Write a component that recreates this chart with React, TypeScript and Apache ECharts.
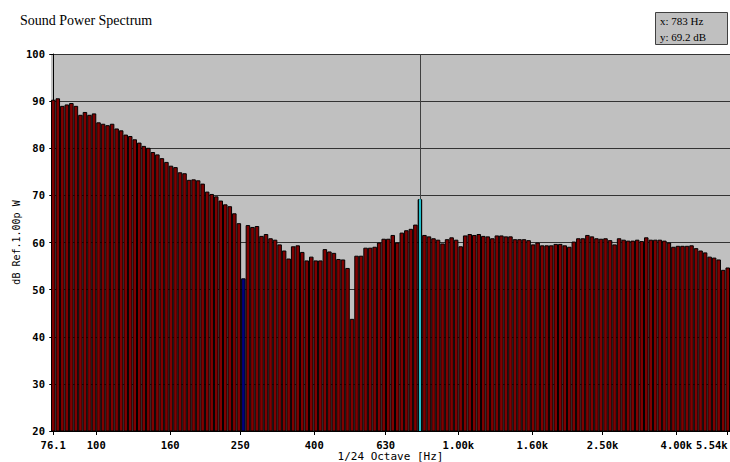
import { useEffect, useRef } from "react";
import * as echarts from "echarts";

// 1/24-octave bands (base-10: 80 bands per decade), starting at 76.1 Hz
const START_HZ = 76.1;
const BANDS_PER_DECADE = 80;

// Sound power level per band, dB re 1.00 pW
const levels: number[] = [
  90.3, 90.6, 89.0, 89.3, 89.6, 89.0, 87.1, 87.7, 87.1, 87.4,
  85.5, 85.2, 84.9, 85.2, 84.2, 83.8, 82.9, 82.6, 81.9, 81.2,
  80.5, 80.1, 79.2, 78.7, 77.9, 77.1, 76.3, 76.0, 74.9, 74.7,
  73.3, 73.4, 73.2, 72.5, 70.8, 70.3, 69.8, 68.9, 68.1, 67.7,
  66.2, 64.1, 52.4, 63.7, 63.3, 63.5, 61.4, 61.8, 60.9, 60.6,
  59.6, 58.3, 56.6, 59.2, 59.4, 58.0, 56.2, 57.0, 56.2, 56.2,
  58.6, 58.1, 57.8, 56.5, 56.4, 54.6, 43.8, 57.2, 57.2, 58.9,
  58.9, 59.1, 60.0, 60.8, 60.8, 61.6, 60.0, 62.1, 62.6, 62.9,
  63.8, 69.2, 61.6, 61.3, 60.9, 60.6, 59.8, 60.7, 61.1, 60.6,
  59.2, 61.5, 61.8, 61.6, 61.8, 61.4, 61.3, 60.9, 61.5, 61.5,
  61.3, 61.3, 60.7, 60.7, 60.7, 60.5, 59.6, 60.0, 59.4, 59.4,
  59.4, 59.7, 59.7, 59.4, 59.1, 60.2, 60.9, 60.9, 61.6, 61.3,
  60.9, 60.8, 60.9, 60.5, 59.6, 60.9, 60.6, 60.4, 60.4, 60.6,
  60.3, 61.1, 60.6, 60.6, 60.6, 60.4, 60.0, 59.1, 59.3, 59.3,
  59.3, 59.4, 58.8, 58.3, 57.9, 57.0, 56.8, 56.4, 54.2, 54.7,
];

// Frequency axis tick marks
const tickFreqs: number[] = [76.1, 100, 160, 250, 400, 630, 1000, 1600, 2500, 4000, 5540];
const tickLabels: string[] = ["76.1", "100", "160", "250", "400", "630", "1.00k", "1.60k", "2.50k", "4.00k", "5.54k"];

// Highlighted bands: selected band (blue) and cursor band
const selectedBand = 42;
const cursorBand = 81;

const bandFreqs = levels.map((_, i) => START_HZ * Math.pow(10, i / BANDS_PER_DECADE));
const tickPos = tickFreqs.map((f) => BANDS_PER_DECADE * Math.log10(f / START_HZ));

const MONO = '"DejaVu Sans Mono", "Liberation Mono", monospace';
const SERIF = '"Liberation Serif", "DejaVu Serif", serif';

export default function App() {
  const ref = useRef<HTMLDivElement>(null);

  useEffect(() => {
    if (!ref.current) return;
    const chart = echarts.init(ref.current, null, { renderer: "svg" });

    const barData = levels.map((v, i) => {
      if (i === selectedBand) {
        return { value: v, itemStyle: { color: "#000080", borderColor: "#000", borderWidth: 1 } };
      }
      if (i === cursorBand) {
        return { value: v, itemStyle: { color: "#000000", borderColor: "#000", borderWidth: 1 } };
      }
      return v;
    });

    const labelFor = (v: number) => {
      let best = 0;
      let d = Infinity;
      tickPos.forEach((p, i) => {
        const dd = Math.abs(p - v);
        if (dd < d) {
          d = dd;
          best = i;
        }
      });
      return tickLabels[best];
    };

    chart.setOption({
      animation: false,
      backgroundColor: "#ffffff",
      title: {
        text: "Sound Power Spectrum",
        left: 20,
        top: 13,
        padding: 0,
        textStyle: { fontFamily: SERIF, fontSize: 14, fontWeight: "normal", color: "#000" },
      },
      grid: {
        left: 51,
        right: 0,
        top: 54,
        bottom: 31,
        outerBoundsMode: "none",
        containLabel: false,
        show: true,
        backgroundColor: "#C0C0C0",
        borderWidth: 0,
      },
      xAxis: [
        {
          type: "category",
          data: bandFreqs.map((f) => f.toFixed(1)),
          position: "bottom",
          axisLine: { show: true, lineStyle: { color: "#000", width: 1 } },
          axisTick: { show: false },
          axisLabel: { show: false },
          splitLine: { show: false },
        },
        {
          type: "value",
          position: "bottom",
          min: -0.5,
          max: levels.length - 0.5,
          axisLine: { show: false },
          splitLine: { show: false },
          axisTick: {
            show: true,
            customValues: tickPos,
            length: 4,
            lineStyle: { color: "#000" },
          },
          axisLabel: {
            customValues: tickPos,
            formatter: (v: number) => labelFor(v),
            fontFamily: MONO,
            fontWeight: "bold",
            fontSize: 10.5,
            color: "#000",
            margin: 8,
            hideOverlap: false,
            alignMaxLabel: "right",
          },
          name: "1/24 Octave [Hz]",
          nameLocation: "middle",
          nameGap: 20,
          nameMoveOverlap: false,
          nameTextStyle: { fontFamily: MONO, fontSize: 11, color: "#000" },
        },
      ],
      yAxis: {
        type: "value",
        min: 20,
        max: 100,
        interval: 10,
        axisLine: { show: true, lineStyle: { color: "#000", width: 1 } },
        axisTick: { show: true, length: 4, lineStyle: { color: "#000" } },
        axisLabel: {
          fontFamily: MONO,
          fontWeight: "bold",
          fontSize: 10.5,
          color: "#000",
          margin: 6,
        },
        splitLine: { show: true, lineStyle: { color: "#333333", width: 1 } },
        name: "dB Ref.1.00p W",
        nameLocation: "middle",
        nameGap: 30,
        nameRotate: 90,
        nameMoveOverlap: false,
        nameTextStyle: { fontFamily: MONO, fontSize: 10, color: "#000" },
      },
      series: [
        {
          type: "bar",
          xAxisIndex: 0,
          barCategoryGap: "0%",
          data: barData,
          itemStyle: { color: "#800000", borderColor: "#000", borderWidth: 1 },
          markLine: {
            silent: true,
            symbol: "none",
            label: { show: false },
            data: [
              // cursor line above the selected band
              [
                { xAxis: cursorBand, yAxis: 100, lineStyle: { color: "#404040", type: "solid", width: 1 } },
                { xAxis: cursorBand, yAxis: levels[cursorBand] },
              ],
              // cursor line through the band itself
              [
                { xAxis: cursorBand, yAxis: levels[cursorBand], lineStyle: { color: "#30F0FF", type: "solid", width: 1.6 } },
                { xAxis: cursorBand, yAxis: 20 },
              ],
            ],
          },
        },
      ],
      graphic: [
        {
          type: "group",
          left: 655,
          top: 12,
          children: [
            {
              type: "rect",
              shape: { x: 0.5, y: 0.5, width: 72, height: 32 },
              style: { fill: "#C0C0C0", stroke: "#404040", lineWidth: 1 },
            },
            {
              type: "text",
              x: 5,
              y: 9,
              style: {
                text: `x: ${Math.round(bandFreqs[cursorBand])} Hz`,
                font: `11px ${SERIF}`,
                fill: "#000",
                verticalAlign: "middle",
              },
            },
            {
              type: "text",
              x: 5,
              y: 25,
              style: {
                text: `y: ${levels[cursorBand].toFixed(1)} dB`,
                font: `11px ${SERIF}`,
                fill: "#000",
                verticalAlign: "middle",
              },
            },
          ],
        },
      ],
    });

    return () => chart.dispose();
  }, []);

  return (
    <div
      ref={ref}
      style={{ position: "absolute", left: 0, top: 0, width: 730, height: 462 }}
    />
  );
}
